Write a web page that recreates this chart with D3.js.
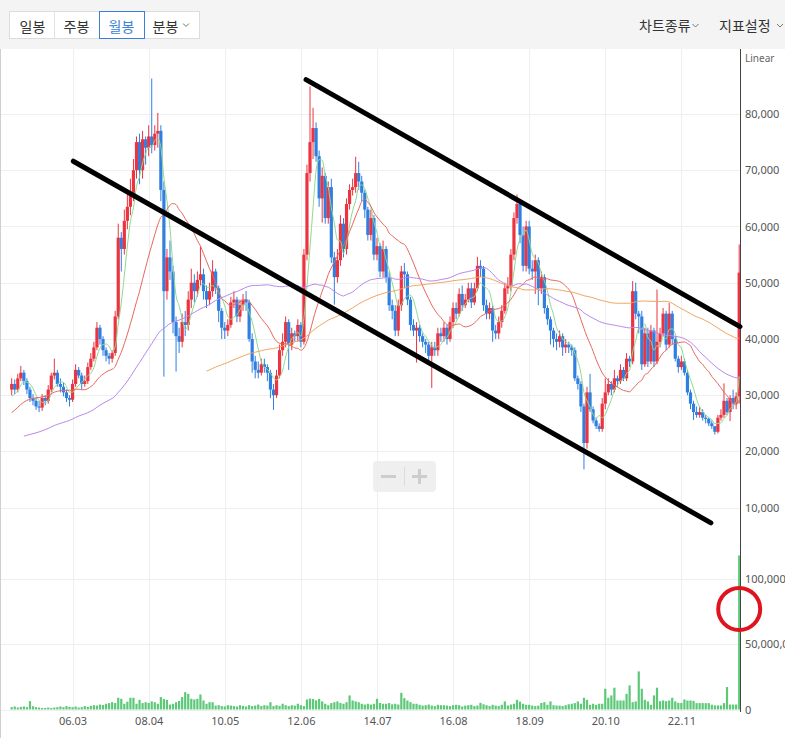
<!DOCTYPE html>
<html><head><meta charset="utf-8">
<script src="https://cdn.jsdelivr.net/npm/d3@7"></script>
<style>
body{margin:0;background:#fff;overflow:hidden;}
svg{display:block;}
</style></head><body>
<svg id="c" width="785" height="738"></svg>
<script>
// Monthly candles, first candle 2004.07, last 2024.06 (prices in thousand won)
const close = [
32.0,31.0,33.0,34.0,32.5,31.0,29.5,29.0,28.0,27.8,
29.5,29.0,31.0,33.5,34.0,32.0,31.5,30.5,29.5,29.2,
32.0,34.5,33.5,32.0,32.5,35.0,36.5,38.5,42.0,40.0,
38.0,37.0,36.5,37.5,44.0,58.0,56.0,61.0,63.5,66.0,
70.0,75.0,70.0,75.5,74.0,76.0,74.5,76.5,77.0,66.5,
48.5,54.5,52.0,43.0,40.5,39.5,43.0,42.5,47.0,50.0,
48.5,50.5,51.5,48.5,47.0,48.5,52.0,49.0,45.0,42.0,
41.5,42.5,46.5,47.0,44.0,46.0,47.0,46.5,40.0,36.0,
34.5,34.0,35.5,35.0,34.0,31.0,30.0,33.5,38.0,39.5,
43.0,39.0,41.0,40.5,42.5,39.5,55.0,69.5,75.0,77.5,
72.5,65.0,69.0,61.5,67.0,54.5,51.0,54.0,60.5,56.0,
64.0,66.5,67.0,69.5,68.0,66.0,63.0,58.5,61.5,55.0,
56.5,52.0,56.0,51.0,46.0,45.0,41.5,46.0,52.0,51.5,
47.0,42.5,41.5,42.0,40.5,39.5,39.0,37.0,38.5,38.0,
41.0,40.5,42.0,40.0,43.0,45.5,44.5,48.0,46.0,47.0,
49.0,46.5,49.0,53.0,52.5,46.0,44.5,45.5,41.5,41.0,
43.0,45.0,49.0,49.5,55.0,61.5,64.0,58.5,53.0,60.0,
52.5,52.0,54.0,49.0,51.0,45.5,43.5,41.5,40.0,39.5,
40.5,38.5,39.0,38.5,38.0,33.0,32.0,28.0,21.5,30.5,
27.5,25.5,24.5,24.0,28.5,30.5,32.0,31.0,33.0,32.5,
34.5,33.0,36.5,36.0,48.5,44.5,44.0,35.5,41.0,36.0,
41.5,36.0,39.5,41.0,44.5,39.0,44.5,40.0,36.5,35.0,
36.0,34.0,30.5,28.5,27.0,26.5,27.0,26.0,25.8,25.0,
24.5,23.5,26.0,26.5,29.0,27.0,29.5,28.5,29.8,51.8];
const open = [
31.0,32.0,31.0,33.0,34.0,32.5,31.0,29.5,29.0,28.0,
27.8,29.5,29.0,31.0,33.5,34.0,32.0,31.5,30.5,29.5,
29.2,32.0,34.5,33.5,32.0,32.5,35.0,36.5,38.5,42.0,
40.0,38.0,37.0,36.5,37.5,44.0,58.0,56.0,61.0,63.5,
66.0,70.0,75.0,70.0,75.5,74.0,76.0,74.5,76.5,77.0,
66.5,48.5,54.5,52.0,43.0,40.5,39.5,43.0,42.5,47.0,
50.0,48.5,50.5,51.5,48.5,47.0,48.5,52.0,49.0,45.0,
42.0,41.5,42.5,46.5,47.0,44.0,46.0,47.0,46.5,40.0,
36.0,34.5,34.0,35.5,35.0,34.0,31.0,30.0,33.5,38.0,
39.5,43.0,39.0,41.0,40.5,42.5,39.5,55.0,69.5,75.0,
77.5,72.5,65.0,69.0,61.5,67.0,54.5,51.0,54.0,60.5,
56.0,64.0,66.5,67.0,69.5,68.0,66.0,63.0,58.5,61.5,
55.0,56.5,52.0,56.0,51.0,46.0,45.0,41.5,46.0,52.0,
51.5,47.0,42.5,41.5,42.0,40.5,39.5,39.0,37.0,38.5,
38.0,41.0,40.5,42.0,40.0,43.0,45.5,44.5,48.0,46.0,
47.0,49.0,46.5,49.0,53.0,52.5,46.0,44.5,45.5,41.5,
41.0,43.0,45.0,49.0,49.5,55.0,61.5,64.0,58.5,53.0,
60.0,52.5,52.0,54.0,49.0,51.0,45.5,43.5,41.5,40.0,
39.5,40.5,38.5,39.0,38.5,38.0,33.0,32.0,28.0,21.5,
30.5,27.5,25.5,24.5,24.0,28.5,30.5,32.0,31.0,33.0,
32.5,34.5,33.0,36.5,36.0,48.5,44.5,44.0,35.5,41.0,
36.0,41.5,36.0,39.5,41.0,44.5,39.0,44.5,40.0,36.5,
35.0,36.0,34.0,30.5,28.5,27.0,26.5,27.0,26.0,25.8,
25.0,24.5,23.5,26.0,26.5,29.0,27.0,29.5,28.5,29.8];
const high = [
33.0,32.8,33.8,35.2,34.5,33.0,31.5,30.2,29.5,29.0,
30.2,30.0,31.8,34.0,36.5,34.5,33.0,32.2,31.0,30.0,
32.8,35.5,35.0,34.0,33.5,35.8,37.5,39.5,43.0,42.5,
40.5,38.5,37.5,38.0,45.0,60.5,59.0,63.0,66.0,68.5,
72.0,76.0,76.5,77.0,76.0,78.0,86.3,78.0,80.2,78.0,
68.0,56.0,57.5,53.0,44.0,42.0,44.5,45.0,48.5,52.5,
51.5,52.0,56.4,52.5,49.5,50.0,54.0,52.5,49.5,45.5,
43.0,43.5,47.5,48.5,47.5,47.0,48.0,48.5,47.0,41.0,
37.0,36.0,36.5,36.5,35.5,34.5,32.0,34.5,39.0,41.0,
44.0,43.5,42.0,41.5,43.5,43.0,56.0,71.0,84.9,81.1,
78.5,73.5,70.5,69.5,68.0,68.5,55.5,56.0,62.0,61.5,
65.0,67.5,68.5,72.4,71.5,69.0,66.5,63.5,63.0,62.0,
58.0,57.0,57.5,56.5,52.0,47.0,46.0,47.0,53.0,53.5,
52.0,47.5,43.5,43.0,42.5,41.0,40.0,39.5,39.5,39.5,
42.0,42.0,43.0,42.5,44.0,46.5,46.5,49.0,49.5,48.0,
50.0,50.0,50.0,54.6,54.0,53.0,47.0,46.5,46.0,42.5,
44.0,46.0,50.0,51.0,56.0,62.5,65.7,64.5,60.0,61.0,
61.0,54.0,55.0,54.5,52.0,51.5,46.0,44.0,42.0,41.0,
41.5,41.0,40.0,39.5,39.0,38.5,33.5,32.5,28.5,31.5,
33.8,28.0,26.0,25.0,29.5,33.0,33.0,32.5,34.5,33.5,
35.5,35.0,37.5,37.0,50.3,50.0,45.0,45.0,42.0,42.0,
42.5,42.0,48.8,42.0,45.5,45.0,46.4,45.0,40.5,37.0,
37.0,36.5,34.5,31.0,29.0,28.0,28.0,27.5,26.5,26.0,
25.5,24.5,26.5,27.5,32.1,29.5,30.0,31.0,30.5,56.8];
const low = [
30.0,30.2,30.5,32.5,31.8,30.2,28.8,28.2,27.4,27.0,
27.2,28.2,28.5,30.5,32.8,31.5,30.5,29.8,28.8,28.0,
28.8,31.5,33.0,31.0,31.5,32.0,34.5,36.0,38.0,39.0,
37.0,36.0,35.5,35.8,37.0,43.5,52.0,55.0,59.5,62.0,
64.5,68.5,67.5,68.5,71.0,72.5,73.0,73.5,74.0,64.5,
33.3,47.0,50.5,41.0,34.2,37.5,38.5,40.5,41.5,45.5,
46.5,47.5,49.5,47.0,45.5,46.0,47.5,48.0,43.0,40.0,
40.0,40.5,42.0,45.5,43.0,43.0,45.0,45.0,39.5,34.0,
33.0,33.0,33.5,34.0,32.5,29.5,27.4,29.5,33.0,37.0,
38.5,34.5,38.0,39.5,39.5,38.5,39.0,54.0,68.0,72.0,
71.5,63.5,60.7,60.5,60.5,53.5,46.1,50.0,53.0,54.5,
55.0,63.0,65.5,66.0,66.5,64.5,61.5,57.5,57.5,54.0,
54.0,51.0,51.0,50.0,45.0,43.5,40.5,40.5,45.0,49.0,
46.0,41.5,40.5,35.8,39.5,38.5,37.5,36.0,31.3,37.0,
37.0,39.5,39.5,39.0,39.5,42.0,43.5,44.0,45.0,45.5,
46.5,45.5,46.0,48.5,51.0,45.0,43.5,43.5,39.5,40.0,
40.0,42.0,44.5,48.0,48.5,54.0,60.5,57.0,52.0,52.0,
51.5,50.5,48.0,46.0,48.0,44.5,42.5,39.0,38.5,38.0,
38.5,37.0,37.5,37.5,37.0,32.5,31.0,27.0,16.8,20.5,
27.0,25.0,24.0,23.5,23.5,27.5,30.0,30.0,30.5,31.5,
32.0,32.5,32.5,35.0,35.5,43.5,41.0,34.5,35.0,35.0,
35.5,35.0,35.5,38.5,40.5,38.0,38.5,39.0,36.0,34.0,
34.5,33.5,30.0,27.5,25.6,26.0,26.0,25.5,25.0,24.5,
24.0,23.0,23.2,25.5,26.0,26.5,25.4,27.5,27.5,28.5];
// monthly volume, millions of shares
const volume = [
1.8,2.3,1.5,2.0,2.3,1.8,6.4,2.5,1.8,1.5,
1.2,1.2,1.5,1.2,1.5,1.8,2.3,1.8,2.6,2.0,
1.8,2.3,1.5,1.8,2.6,2.0,2.8,3.3,3.0,3.8,
3.5,4.4,4.9,5.6,5.0,9.0,8.2,4.4,6.0,9.0,
9.0,4.4,7.4,4.9,5.6,5.0,6.2,5.6,4.4,9.5,
8.0,7.4,3.8,4.4,5.6,6.5,9.5,13.3,12.0,8.2,
7.7,8.2,11.5,6.9,4.4,5.6,5.6,3.0,3.3,2.6,
2.3,3.3,3.0,2.6,2.3,3.3,2.8,2.3,3.3,2.6,
3.0,3.8,2.6,3.3,3.0,5.6,2.6,3.3,2.8,4.4,
3.3,2.6,3.3,3.0,4.4,3.3,2.6,7.7,8.4,8.0,
7.0,8.2,6.2,4.4,3.3,4.9,5.6,6.2,5.0,4.4,
5.6,10.8,6.9,6.2,5.6,4.4,3.8,4.4,3.8,4.4,
8.2,5.0,4.4,4.4,4.9,4.0,4.4,3.8,12.8,8.7,
6.9,5.6,4.4,4.4,3.6,3.0,3.3,3.8,3.0,2.6,
3.6,3.3,3.3,3.0,2.6,3.3,3.6,3.3,2.3,3.0,
3.3,3.6,2.6,3.0,5.1,4.0,3.3,2.6,3.6,3.0,
2.6,3.6,6.2,3.0,3.8,4.4,7.4,6.0,4.4,3.6,
3.6,3.0,2.6,3.0,5.0,5.6,3.6,6.2,3.3,3.0,
3.0,2.6,3.3,4.0,4.4,4.9,6.2,4.4,9.0,7.4,
3.6,4.4,3.6,4.4,4.4,15.9,9.0,10.8,16.7,6.9,
6.9,6.9,12.0,18.5,5.6,6.2,29.2,15.9,7.4,6.2,
3.6,10.8,16.7,6.4,6.9,6.4,6.9,9.0,6.2,5.1,
5.0,7.7,6.9,6.9,6.6,4.9,4.9,4.9,4.9,4.9,
3.6,3.1,3.1,3.1,4.9,17.2,3.8,3.8,3.8,118];
// closes before the visible window (2000.01-2004.06), used only for moving averages
const prehistoryClose = [
22,21,20,19,18,18,17,17,18,19,20,21,20,19,18,17,18,19,20,21,
22,21,20,19,18,18,19,20,19,18,19,20,21,20,19,20,
22,23,24,24,25,25,26,26,27,27,27,28,28,28,29,29,30,29,29];
const maPeriods = [5, 20, 60, 120];
const maColors = ["#8fd98f", "#e8675c", "#b987ee", "#f2a55e"];
const priceTicks = [10, 20, 30, 40, 50, 60, 70, 80];      // thousand won
const volumeTicks = [0, 50, 100];                          // millions
const xTickLabels = ["06.03","08.04","10.05","12.06","14.07","16.08","18.09","20.10","22.11"];
const firstYear = 2004, firstMonth = 7;
// hand-drawn channel lines: [month index, price (thousand won)]
const trendLines = [
  [[20.24, 71.6], [229.7, 7.3]],
  [[96.7, 86.1], [239.25, 42.2]]
];
const highlight = {index: 239, vol: 77};

const svg = d3.select("#c");
const FONT = '"Noto Sans","Noto Sans CJK KR",sans-serif';
const KFONT = '"Noto Sans CJK KR","Noto Sans",sans-serif';

const x = d3.scaleLinear().domain([0, close.length - 1]).range([11.7, 739.2]);
const yP = d3.scaleLinear().domain([10, 80]).range([507.7, 114]);
const yV = d3.scaleLinear().domain([0, 100]).range([709.5, 579]);
const tickIndex = s => { const [yy, mm] = s.split(".").map(Number); return (2000 + yy - firstYear) * 12 + (mm - firstMonth); };

// toolbar
svg.append("rect").attr("x",0).attr("y",0).attr("width",785).attr("height",49).attr("fill","#f4f4f4");
svg.append("rect").attr("x",9.5).attr("y",11.5).attr("width",190).attr("height",27).attr("fill","#fff").attr("stroke","#dcdcdc");
[54.5, 144.5].forEach(sx => svg.append("line").attr("x1",sx).attr("x2",sx).attr("y1",12).attr("y2",38).attr("stroke","#e2e2e2"));
svg.append("rect").attr("x",99.5).attr("y",11.5).attr("width",45).attr("height",27).attr("fill","#fff").attr("stroke","#3b7ed6");
const btns = [["일봉",32.5,"#333"],["주봉",76.5,"#333"],["월봉",121.5,"#3b82d8"],["분봉",165.5,"#333"]];
btns.forEach(([t,cx,col]) => svg.append("text").attr("x",cx).attr("y",25.5).attr("text-anchor","middle")
  .attr("dominant-baseline","central").attr("font-family",KFONT).attr("font-size",14).attr("fill",col).text(t));
function chevron(cx, cy){ svg.append("polyline").attr("points",`${cx-3},${cy-1.5} ${cx},${cy+1.5} ${cx+3},${cy-1.5}`)
  .attr("fill","none").attr("stroke","#777").attr("stroke-width",1); }
chevron(186, 25);
svg.append("text").attr("x",639).attr("y",25).attr("dominant-baseline","central").attr("font-family",KFONT)
  .attr("font-size",14).attr("fill","#333").text("차트종류");
chevron(695.5, 25.5);
svg.append("text").attr("x",719).attr("y",25).attr("dominant-baseline","central").attr("font-family",KFONT)
  .attr("font-size",14).attr("fill","#333").text("지표설정");
chevron(780, 25.5);

// left border
svg.append("line").attr("x1",0.5).attr("x2",0.5).attr("y1",49).attr("y2",738).attr("stroke","#cfcfcf");

// grid
const grid = svg.append("g").attr("stroke","#efefef").attr("stroke-width",1);
xTickLabels.forEach(s => { const gx = Math.round(x(tickIndex(s))) + 0.5;
  grid.append("line").attr("x1",gx).attr("x2",gx).attr("y1",49).attr("y2",712); });
priceTicks.forEach(v => { const gy = Math.round(yP(v)) + 0.5;
  grid.append("line").attr("x1",1).attr("x2",740).attr("y1",gy).attr("y2",gy); });
volumeTicks.forEach(v => { const gy = Math.round(yV(v)) + 0.5;
  grid.append("line").attr("x1",1).attr("x2",740).attr("y1",gy).attr("y2",gy); });

// volume bars
svg.append("g").selectAll("rect").data(volume).join("rect")
  .attr("x",(d,i)=>x(i)-1.1).attr("width",2.2)
  .attr("y",d=>yV(d)).attr("height",d=>yV(0)-yV(d))
  .attr("fill","#5cc878");

// candles
const idx = d3.range(close.length);
const UP = "#ec3440", DOWN = "#2f7fe0";
const cg = svg.append("g");
cg.selectAll("line").data(idx).join("line")
  .attr("x1",i=>x(i)).attr("x2",i=>x(i)).attr("y1",i=>yP(high[i])).attr("y2",i=>yP(low[i]))
  .attr("stroke",i=>close[i]>=open[i]?UP:DOWN).attr("stroke-width",1);
cg.selectAll("rect").data(idx).join("rect")
  .attr("x",i=>x(i)-1.6).attr("width",3.2)
  .attr("y",i=>yP(Math.max(open[i],close[i])))
  .attr("height",i=>Math.max(1.2, Math.abs(yP(open[i])-yP(close[i]))))
  .attr("fill",i=>close[i]>=open[i]?UP:DOWN);

// moving averages
const all = prehistoryClose.concat(close);
const off = prehistoryClose.length;
maPeriods.forEach((p, k) => {
  const pts = idx.map(i => { const g = i + off; if (g < p - 1) return null;
    return [i, d3.mean(all.slice(g - p + 1, g + 1))]; }).filter(Boolean);
  svg.append("path").datum(pts).attr("fill","none").attr("stroke",maColors[k]).attr("stroke-width",1)
    .attr("d", d3.line().x(d=>x(d[0])).y(d=>yP(d[1])).curve(d3.curveMonotoneX));
});

// axes
svg.append("line").attr("x1",740.5).attr("x2",740.5).attr("y1",49).attr("y2",712).attr("stroke","#444");
const pAxis = svg.append("g").attr("transform","translate(740,0)")
  .call(d3.axisRight(yP).tickValues(priceTicks).tickSize(0).tickPadding(5).tickFormat(v=>d3.format(",")(v*1000)));
const vAxis = svg.append("g").attr("transform","translate(740,0)")
  .call(d3.axisRight(yV).tickValues(volumeTicks).tickSize(0).tickPadding(5).tickFormat(v=>d3.format(",")(v*1e6)));
const xAxis = svg.append("g").attr("transform","translate(0,716)")
  .call(d3.axisBottom(x).tickValues(xTickLabels.map(tickIndex)).tickSize(0).tickPadding(1)
  .tickFormat((v,j)=>xTickLabels[j]));
[pAxis, vAxis, xAxis].forEach(g => { g.select(".domain").remove();
  g.selectAll("text").attr("font-family",FONT).attr("font-size",11).attr("fill","#555"); });
svg.append("text").attr("x",745).attr("y",58).attr("dominant-baseline","central").attr("font-family",FONT)
  .attr("font-size",10).attr("fill","#666").text("Linear");

// zoom control
svg.append("rect").attr("x",373).attr("y",461).attr("width",63).attr("height",31).attr("rx",4).attr("fill","#ececec").attr("opacity",0.85);
svg.append("line").attr("x1",404.5).attr("x2",404.5).attr("y1",467).attr("y2",486).attr("stroke","#dcdcdc");
svg.append("rect").attr("x",381).attr("y",475).attr("width",15).attr("height",3).attr("fill","#cdcdcd");
svg.append("rect").attr("x",412).attr("y",475).attr("width",15).attr("height",3).attr("fill","#cdcdcd");
svg.append("rect").attr("x",418).attr("y",469).attr("width",3).attr("height",15).attr("fill","#cdcdcd");

// channel lines
trendLines.forEach(([a, b]) => svg.append("line")
  .attr("x1",x(a[0])).attr("y1",yP(a[1])).attr("x2",x(b[0])).attr("y2",yP(b[1]))
  .attr("stroke","#000").attr("stroke-width",5).attr("stroke-linecap","round"));

// highlight circle
svg.append("circle").attr("cx",x(highlight.index)).attr("cy",yV(highlight.vol)).attr("r",21)
  .attr("fill","none").attr("stroke","#e0141e").attr("stroke-width",4);
</script>
</body></html>
